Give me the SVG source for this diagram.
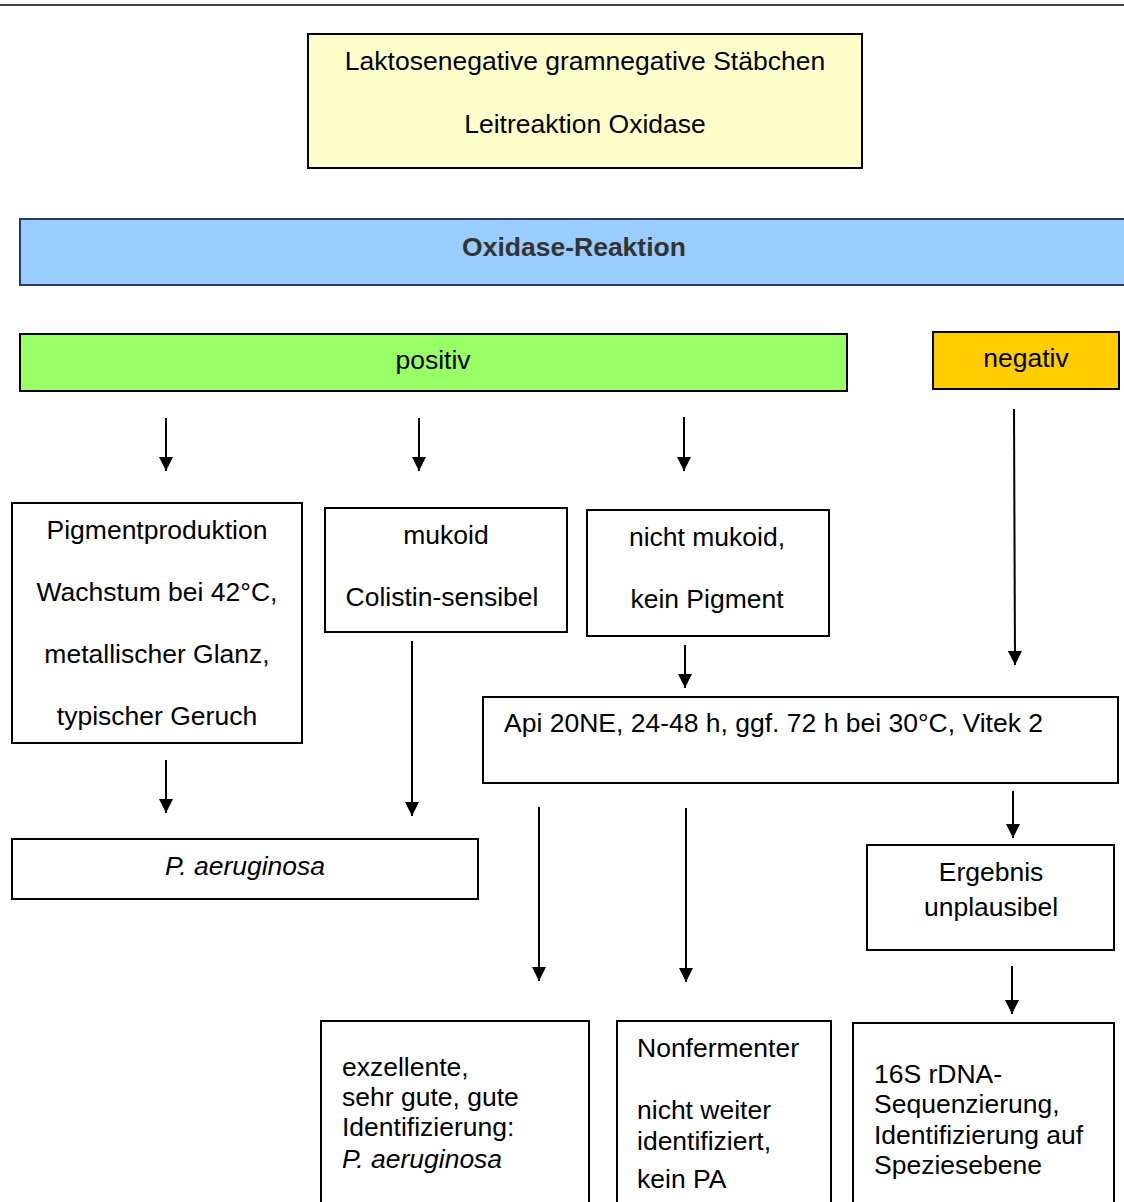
<svg xmlns="http://www.w3.org/2000/svg" width="1124" height="1202" viewBox="0 0 1124 1202">
<style>
text{font-family:"Liberation Sans",Arial,sans-serif;font-size:26.5px;fill:#000}
.c{text-anchor:middle}
.i{font-style:italic}
.b{stroke:#000;stroke-width:2;fill:#fff}
.ln{stroke:#000;stroke-width:2;fill:none;marker-end:url(#ah)}
</style>
<defs>
<marker id="ah" viewBox="0 0 10 10" refX="10" refY="5" markerWidth="7" markerHeight="7" markerUnits="strokeWidth" orient="auto">
<path d="M0,0 L10,5 L0,10 z" fill="#000"/>
</marker>
</defs>
<rect width="1124" height="1202" fill="#fff"/>
<line x1="0" y1="5" x2="1124" y2="5" stroke="#444" stroke-width="2"/>
<g id="top"><rect x="308" y="34" width="554" height="134" fill="#FFFFCC" stroke="#000" stroke-width="2"/>
<text class="c" x="585" y="70">Laktosenegative gramnegative Stäbchen</text>
<text class="c" x="585" y="133">Leitreaktion Oxidase</text></g>
<g id="oxidase"><rect x="20" y="219" width="1110" height="66" fill="#99CCFF" stroke="#1F3A6E" stroke-width="2"/>
<text class="c" x="574" y="256" style="font-weight:bold;fill:#333">Oxidase-Reaktion</text></g>
<g id="positiv"><rect x="20" y="334" width="827" height="57" fill="#99FF66" stroke="#000" stroke-width="2"/>
<text class="c" x="433" y="369">positiv</text></g>
<g id="negativ"><rect x="933" y="332" width="186" height="57" fill="#FFCC00" stroke="#000" stroke-width="2"/>
<text class="c" x="1026" y="367">negativ</text></g>
<g id="pigment"><rect class="b" x="12" y="503" width="290" height="240"/>
<text class="c" x="157" y="539">Pigmentproduktion</text>
<text class="c" x="157" y="601">Wachstum bei 42°C,</text>
<text class="c" x="157" y="663">metallischer Glanz,</text>
<text class="c" x="157" y="725">typischer Geruch</text></g>
<g id="mukoid"><rect class="b" x="325" y="508" width="242" height="124"/>
<text class="c" x="446" y="544">mukoid</text>
<text class="c" x="442" y="606">Colistin-sensibel</text></g>
<g id="nichtmukoid"><rect class="b" x="587" y="510" width="242" height="126"/>
<text class="c" x="707" y="546">nicht mukoid,</text>
<text class="c" x="707" y="608">kein Pigment</text></g>
<g id="api"><rect class="b" x="483" y="697" width="635" height="86"/>
<text x="504" y="732">Api 20NE, 24-48 h, ggf. 72 h bei 30°C, Vitek 2</text></g>
<g id="paeruginosa"><rect class="b" x="12" y="839" width="466" height="60"/>
<text class="c i" x="245" y="875">P. aeruginosa</text></g>
<g id="ergebnis"><rect class="b" x="867" y="845" width="247" height="105"/>
<text class="c" x="991" y="881">Ergebnis</text>
<text class="c" x="991" y="916">unplausibel</text></g>
<g id="exzellent"><rect class="b" x="321" y="1021" width="268" height="200"/>
<text x="342" y="1076">exzellente,</text>
<text x="342" y="1106">sehr gute, gute</text>
<text x="342" y="1136">Identifizierung:</text>
<text class="i" x="342" y="1168">P. aeruginosa</text></g>
<g id="nonfermenter"><rect class="b" x="617" y="1021" width="214" height="200"/>
<text x="637" y="1057">Nonfermenter</text>
<text x="637" y="1119">nicht weiter</text>
<text x="637" y="1150">identifiziert,</text>
<text x="637" y="1188">kein PA</text></g>
<g id="sequenz"><rect class="b" x="853" y="1023" width="261" height="200"/>
<text x="874" y="1083">16S rDNA-</text>
<text x="874" y="1113">Sequenzierung,</text>
<text x="874" y="1144">Identifizierung auf</text>
<text x="874" y="1174">Speziesebene</text></g>
<g id="connectors">
<line class="ln" x1="166" y1="418" x2="166" y2="471"/>
<line class="ln" x1="419" y1="418" x2="419" y2="471"/>
<line class="ln" x1="684" y1="417" x2="684" y2="471"/>
<line class="ln" x1="1014" y1="409" x2="1015" y2="665"/>
<line class="ln" x1="685" y1="645" x2="685" y2="688"/>
<line class="ln" x1="166" y1="760" x2="166" y2="813"/>
<line class="ln" x1="412" y1="641" x2="412" y2="816"/>
<line class="ln" x1="1013" y1="791" x2="1013" y2="838"/>
<line class="ln" x1="539" y1="807" x2="539" y2="981"/>
<line class="ln" x1="686" y1="808" x2="686" y2="982"/>
<line class="ln" x1="1012" y1="966" x2="1012" y2="1014"/>
</g>
</svg>
